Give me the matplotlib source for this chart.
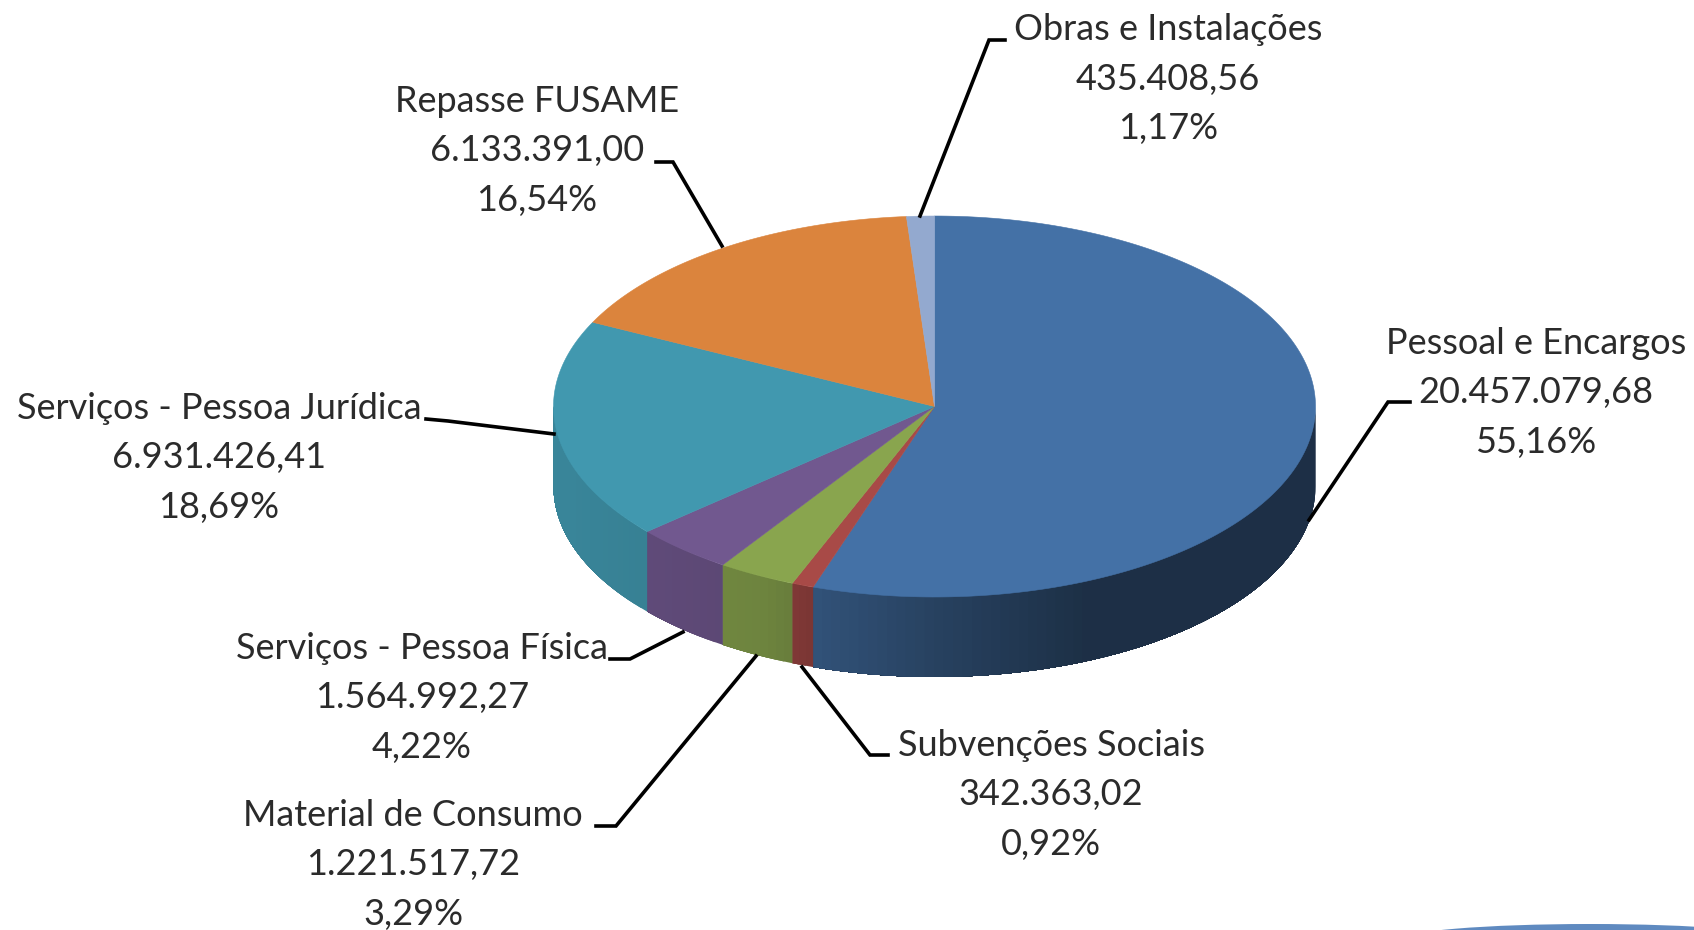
import numpy as np
import matplotlib
matplotlib.use('Agg')
import matplotlib.pyplot as plt
from matplotlib.patches import Polygon, Ellipse

plt.rcParams['font.family'] = ['Lato', 'DejaVu Sans']

categories = ['Pessoal e Encargos', 'Subvenções Sociais', 'Material de Consumo',
              'Serviços - Pessoa Física', 'Serviços - Pessoa Jurídica',
              'Repasse FUSAME', 'Obras e Instalações']
values = [20457079.68, 342363.02, 1221517.72, 1564992.27, 6931426.41, 6133391.00, 435408.56]
colors = ['#4471a6', '#a84a47', '#89a54e', '#71588f', '#4198af', '#db843d', '#93a9cf']

# posicao do pie em pixels
cx, cy = 934.5, 406.5
rx, ry = 381, 190.5
depth = 80

# centro do rotulo e linha guia de cada fatia, em pixels
label_xy = [(1536, 343), (1051, 745), (413, 815), (422, 648), (219, 408), (537, 101), (1168, 30)]
leader = [
    [(1309, 520), (1388, 402), (1410, 402)],
    [(802, 667), (870, 755), (888, 755)],
    [(756, 656), (616, 826), (596, 826)],
    [(683, 632), (630, 659), (610, 659)],
    [(554, 434), (448, 421), (426, 419)],
    [(722, 246), (673, 162), (656, 162)],
    [(920, 216), (989, 40), (1005, 40)],
]


def br(v):
    s = '{:,.2f}'.format(v)
    return s.replace(',', 'x').replace('.', ',').replace('x', '.')


def ell(t, dy=0):
    return cx + rx * np.sin(t), cy - ry * np.cos(t) + dy


fig = plt.figure(figsize=(16.94, 9.30), dpi=100)
ax = fig.add_axes([0, 0, 1, 1])
ax.set_xlim(0, 1694)
ax.set_ylim(930, 0)
ax.axis('off')

total = sum(values)
edges = 2 * np.pi * np.concatenate([[0], np.cumsum(values)]) / total

# lateral: so a parte da frente aparece
for i, col in enumerate(colors):
    a, b = max(edges[i], np.pi / 2), min(edges[i + 1], 3 * np.pi / 2)
    if b <= a:
        continue
    base = np.array(matplotlib.colors.to_rgb(col))
    ts = np.linspace(a, b, int((b - a) * 40) + 2)
    # cada faixa vai ate o fim da fatia, a seguinte pinta por cima (sem frestas)
    for t0, t1 in zip(ts[:-1], ts[1:]):
        f = np.interp(np.sin((t0 + t1) / 2), [-1, -0.45, -0.3, 0, 0.4, 1],
                      [0.88, 0.8, 0.72, 0.58, 0.42, 0.42])
        tt = np.linspace(t0, b, max(int((b - t0) * 30), 2))
        xs, ys = ell(tt)
        xb, yb = ell(tt[::-1], depth)
        pts = list(zip(xs, ys)) + list(zip(xb, yb))
        ax.add_patch(Polygon(pts, closed=True, fc=base * f, ec='none'))

# topo
for i, col in enumerate(colors):
    ts = np.linspace(edges[i], edges[i + 1], max(int((edges[i + 1] - edges[i]) * 60), 4))
    xs, ys = ell(ts)
    pts = [(cx, cy)] + list(zip(xs, ys))
    ax.add_patch(Polygon(pts, closed=True, fc=col, ec=col, lw=0.4))

for i, name in enumerate(categories):
    lines = [name, br(values[i]), '{:.2f}%'.format(100 * values[i] / total).replace('.', ',')]
    x, y = label_xy[i]
    for k, line in enumerate(lines):
        ax.text(x, y + k * 49.5, line, ha='center', va='center', fontsize=26, color='#2b2b2b')
    pts = np.array(leader[i])
    ax.plot(pts[:, 0], pts[:, 1], color='black', lw=2.6, solid_joinstyle='miter')

# resto do fundo do slide, canto inferior direito
ax.add_patch(Ellipse((1590, 940), 380, 32, fc='#5f8ac0', ec='none'))

fig.savefig('out.png', dpi=100)
